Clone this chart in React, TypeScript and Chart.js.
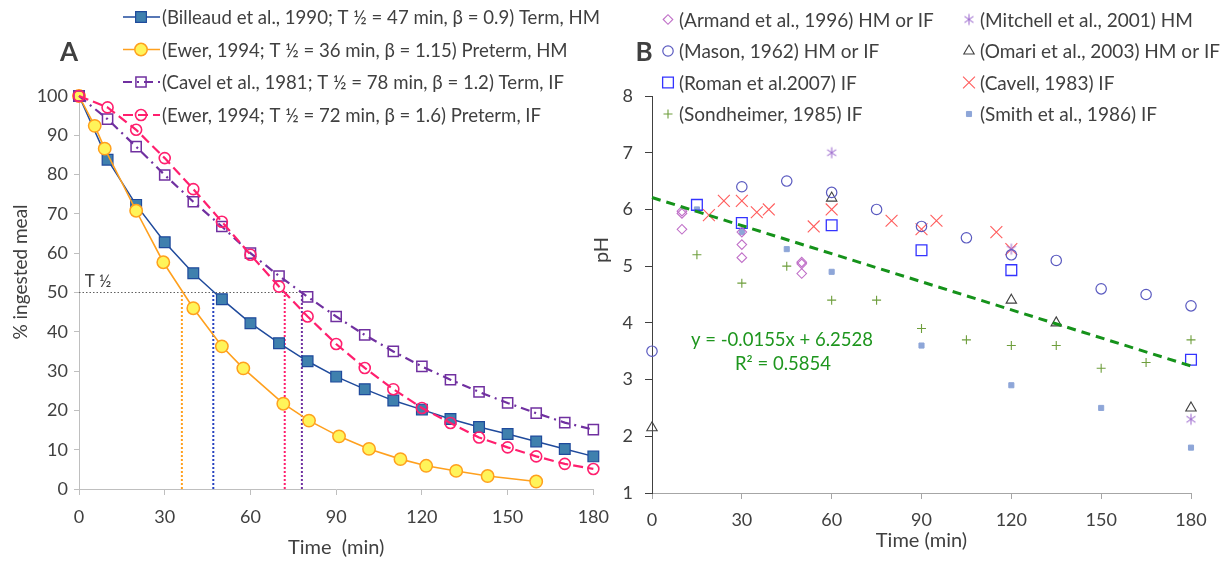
import React, { useEffect, useRef } from 'react';
import { Chart, registerables } from 'chart.js';

Chart.register(...registerables);

const FONT = 'Lato, "Noto Sans", "DejaVu Sans", sans-serif';
const INK = '#404040';

// ---------------- Panel A : gastric emptying ----------------
const timeA = [0, 10, 20, 30, 40, 50, 60, 70, 80, 90, 100, 110, 120, 130, 140, 150, 160, 170, 180];
const billeaudPct = [100, 83.8, 72.3, 62.8, 54.9, 48.3, 42.2, 37.1, 32.5, 28.6, 25.4, 22.5, 20.2, 17.8, 15.8, 14.0, 12.1, 10.2, 8.3];
const ewerHMTime = [0, 5.5, 9, 20, 29.5, 40, 50, 57.5, 71.5, 80.5, 91, 101.5, 112.5, 121.5, 132, 143, 160];
const ewerHMPct = [100, 92.4, 86.6, 70.8, 57.7, 46, 36.3, 30.7, 21.7, 17.4, 13.4, 10.2, 7.6, 5.9, 4.6, 3.3, 1.9];
const cavelPct = [100, 94.1, 87.1, 79.9, 73.1, 66.8, 60.0, 54.2, 48.9, 43.9, 39.2, 35.0, 31.2, 27.8, 24.7, 21.9, 19.3, 16.9, 15.1];
const ewerIFPct = [100, 97.1, 91.4, 84.2, 76.3, 68.0, 59.6, 51.5, 43.9, 36.9, 30.8, 25.4, 20.6, 16.8, 13.1, 10.6, 8.3, 6.4, 5.1];
const halfTimesA = [47, 36, 78, 72]; // Billeaud, Ewer HM, Cavel, Ewer IF
const halfLevelA = 50;
const legendLabelsA = [
  '(Billeaud et al., 1990; T ½ = 47 min, β = 0.9) Term, HM',
  '(Ewer, 1994; T ½ = 36 min, β = 1.15) Preterm, HM',
  '(Cavel et al., 1981; T ½ = 78 min, β = 1.2) Term, IF',
  '(Ewer, 1994; T ½ = 72 min, β = 1.6) Preterm, IF',
];
const xTicksA = { min: 0, max: 180, step: 30 };
const yTicksA = { min: 0, max: 100, step: 10 };
const xTitleA = 'Time  (min)';
const yTitleA = '% ingested meal';
const halfLabel = 'T ½';

// ---------------- Panel B : gastric pH ----------------
const armandX = [10, 10, 10, 30, 30, 30, 50, 50, 50];
const armandY = [5.97, 5.93, 5.65, 5.6, 5.38, 5.15, 5.07, 5.04, 4.87];
const masonX = [0, 30, 45, 60, 75, 90, 105, 120, 135, 150, 165, 180];
const masonY = [3.5, 6.4, 6.5, 6.3, 6.0, 5.7, 5.5, 5.2, 5.1, 4.6, 4.5, 4.3];
const romanX = [15, 30, 60, 90, 120, 180];
const romanY = [6.08, 5.76, 5.72, 5.28, 4.93, 3.35];
const sondheimerX = [15, 30, 45, 60, 75, 90, 105, 120, 135, 150, 165, 180];
const sondheimerY = [5.2, 4.7, 5.0, 4.4, 4.4, 3.9, 3.7, 3.6, 3.6, 3.2, 3.3, 3.7];
const mitchellX = [60, 120, 180];
const mitchellY = [7.0, 5.3, 2.3];
const omariX = [0, 60, 120, 135, 180];
const omariY = [2.15, 6.2, 4.4, 4.0, 2.5];
const cavellX = [19, 24, 30, 35, 39, 54, 60, 80, 90, 95, 115, 120];
const cavellY = [5.9, 6.15, 6.15, 5.95, 6.0, 5.7, 6.0, 5.8, 5.65, 5.8, 5.6, 5.3];
const smithX = [15, 30, 45, 60, 90, 120, 150, 180];
const smithY = [6.0, 5.6, 5.3, 4.9, 3.6, 2.9, 2.5, 1.8];
const trendX = [0, 180];
const trendY = [6.21, 3.24];
const trendLabels = ['y = -0.0155x + 6.2528', 'R² = 0.5854'];
const legendLabelsB = [
  '(Armand et al., 1996) HM or IF',
  '(Mason, 1962) HM or IF',
  '(Roman et al.2007) IF',
  '(Sondheimer, 1985) IF',
  '(Mitchell et al., 2001) HM',
  '(Omari et al., 2003) HM or IF',
  '(Cavell, 1983) IF',
  '(Smith et al., 1986) IF',
];
const xTicksB = { min: 0, max: 180, step: 30 };
const yTicksB = { min: 1, max: 8, step: 1 };
const xTitleB = 'Time (min)';
const yTitleB = 'pH';
const panelLetters = ['A', 'B'];

// ---------------- helpers ----------------
const pts = (xs: number[], ys: number[]) => xs.map((x, i) => ({ x, y: ys[i] }));

function makeAsterisk(color: string, r: number, lw: number): HTMLCanvasElement {
  const size = Math.ceil(r * 2 + lw * 2 + 2);
  const c = document.createElement('canvas');
  c.width = size;
  c.height = size;
  const g = c.getContext('2d')!;
  const cx = size / 2;
  const cy = size / 2;
  g.strokeStyle = color;
  g.lineWidth = lw;
  g.beginPath();
  for (const a of [90, 35, 145]) {
    const rad = (a * Math.PI) / 180;
    g.moveTo(cx - Math.cos(rad) * r, cy - Math.sin(rad) * r);
    g.lineTo(cx + Math.cos(rad) * r, cy + Math.sin(rad) * r);
  }
  g.stroke();
  return c;
}

type Style = {
  color: string;
  fill: string;
  shape: any;
  r: number;
  bw: number;
  lw?: number;
  dash?: number[];
};

function drawShape(ctx: CanvasRenderingContext2D, s: Style, x: number, y: number) {
  ctx.save();
  ctx.setLineDash([]);
  if (typeof s.shape !== 'string') {
    const im = s.shape as HTMLCanvasElement;
    ctx.drawImage(im, x - im.width / 2, y - im.height / 2);
    ctx.restore();
    return;
  }
  ctx.beginPath();
  ctx.strokeStyle = s.color;
  ctx.fillStyle = s.fill;
  ctx.lineWidth = s.bw;
  const r = s.r;
  switch (s.shape) {
    case 'circle':
      ctx.arc(x, y, r, 0, Math.PI * 2);
      break;
    case 'rect': {
      const h = r * Math.SQRT1_2;
      ctx.rect(x - h, y - h, 2 * h, 2 * h);
      break;
    }
    case 'rectRot':
      ctx.moveTo(x - r, y);
      ctx.lineTo(x, y - r);
      ctx.lineTo(x + r, y);
      ctx.lineTo(x, y + r);
      ctx.closePath();
      break;
    case 'triangle': {
      let a = 0;
      ctx.moveTo(x + Math.sin(a) * r, y - Math.cos(a) * r);
      a += (2 * Math.PI) / 3;
      ctx.lineTo(x + Math.sin(a) * r, y - Math.cos(a) * r);
      a += (2 * Math.PI) / 3;
      ctx.lineTo(x + Math.sin(a) * r, y - Math.cos(a) * r);
      ctx.closePath();
      break;
    }
    case 'cross':
      ctx.moveTo(x - r, y);
      ctx.lineTo(x + r, y);
      ctx.moveTo(x, y - r);
      ctx.lineTo(x, y + r);
      break;
    case 'crossRot': {
      const d = r * Math.SQRT1_2;
      ctx.moveTo(x - d, y - d);
      ctx.lineTo(x + d, y + d);
      ctx.moveTo(x + d, y - d);
      ctx.lineTo(x - d, y + d);
      break;
    }
  }
  if (s.shape !== 'cross' && s.shape !== 'crossRot') ctx.fill();
  ctx.stroke();
  ctx.restore();
}

// ---------------- styles ----------------
const styleA: Style[] = [
  { color: '#1F4A9C', fill: '#3F80AE', shape: 'rect', r: 7.6, bw: 1.2, lw: 1.5, dash: [] },
  { color: '#FFA01E', fill: '#FFF45A', shape: 'circle', r: 6.2, bw: 1.5, lw: 1.6, dash: [] },
  { color: '#7030A0', fill: 'rgba(255,255,255,0)', shape: 'rect', r: 7.2, bw: 1.5, lw: 2.2, dash: [9, 5, 2, 5] },
  { color: '#FF1F6E', fill: 'rgba(255,255,255,0)', shape: 'circle', r: 5.5, bw: 1.6, lw: 2.2, dash: [10, 5] },
];
const halfColorsA = ['#2742C0', '#FFA01E', '#7030A0', '#FF1F6E'];

const styleB: Style[] = [
  { color: '#C070C8', fill: 'rgba(255,255,255,0)', shape: 'rectRot', r: 4.8, bw: 1.1 },
  { color: '#5A5AC0', fill: 'rgba(255,255,255,0)', shape: 'circle', r: 5.2, bw: 1.2 },
  { color: '#3333FF', fill: 'rgba(255,255,255,0)', shape: 'rect', r: 7.6, bw: 1.3 },
  { color: '#6E9E3C', fill: 'rgba(255,255,255,0)', shape: 'cross', r: 4.5, bw: 1.1 },
  { color: '#A070D0', fill: 'rgba(255,255,255,0)', shape: null, r: 5.5, bw: 1.1 },
  { color: '#404040', fill: 'rgba(255,255,255,0)', shape: 'triangle', r: 6, bw: 1.1 },
  { color: '#FF5C5C', fill: 'rgba(255,255,255,0)', shape: 'crossRot', r: 8.4, bw: 1.1 },
  { color: '#8EA6D8', fill: '#8EA6D8', shape: 'rect', r: 3.6, bw: 1 },
];

// ---------------- charts ----------------
function scaleOpts(t: { min: number; max: number; step: number }, tickColor: string, borderColor: string, tickLen: number, pad: number) {
  return {
    type: 'linear' as const,
    min: t.min,
    max: t.max,
    ticks: { stepSize: t.step, color: INK, font: { size: 18, family: FONT }, padding: pad, maxRotation: 0, autoSkip: false },
    grid: { drawOnChartArea: false, drawTicks: true, tickLength: tickLen, color: tickColor, lineWidth: 1 },
    border: { display: true, color: borderColor, width: 1 },
  };
}

function configA(): any {
  const sA = styleA;
  const series = [
    { xs: timeA, ys: billeaudPct, s: sA[0] },
    { xs: ewerHMTime, ys: ewerHMPct, s: sA[1] },
    { xs: timeA, ys: cavelPct, s: sA[2] },
    { xs: timeA, ys: ewerIFPct, s: sA[3] },
  ];
  const mk = (o: any) => ({
    label: '',
    data: pts(o.xs, o.ys),
    showLine: true,
    tension: 0,
    clip: false,
    borderColor: o.s.color,
    borderWidth: o.s.lw,
    borderDash: o.s.dash,
    pointStyle: o.s.shape,
    pointRadius: o.s.r,
    pointBorderWidth: o.s.bw,
    pointBorderColor: o.s.color,
    pointBackgroundColor: o.s.fill,
  });
  const halfLines = halfTimesA.map((t, i) => ({
    label: '',
    data: [{ x: t, y: 0 }, { x: t, y: halfLevelA }],
    showLine: true,
    pointRadius: 0,
    borderColor: halfColorsA[i],
    borderWidth: 2,
    borderDash: [2, 2],
  }));
  const hLine = {
    label: '',
    data: [{ x: 0, y: halfLevelA }, { x: Math.max(...halfTimesA), y: halfLevelA }],
    showLine: true,
    pointRadius: 0,
    borderColor: '#606060',
    borderWidth: 1.2,
    borderDash: [1.5, 2],
  };
  const datasets = [mk(series[3]), mk(series[2]), mk(series[1]), mk(series[0]), ...halfLines, hLine];

  const overlay = {
    id: 'overlayA',
    afterDraw(chart: any) {
      const ctx: CanvasRenderingContext2D = chart.ctx;
      const xs = chart.scales.x;
      const ys = chart.scales.y;
      ctx.save();
      ctx.fillStyle = INK;
      ctx.textBaseline = 'middle';
      ctx.textAlign = 'center';
      ctx.font = `bold 26px ${FONT}`;
      ctx.fillText(panelLetters[0], 69, 53);
      ctx.font = `17px ${FONT}`;
      ctx.textAlign = 'left';
      ctx.fillText(halfLabel, xs.getPixelForValue(2), ys.getPixelForValue(halfLevelA) - 11);
      // y title
      ctx.save();
      ctx.translate(21, 272);
      ctx.rotate(-Math.PI / 2);
      ctx.textAlign = 'center';
      ctx.font = `19px ${FONT}`;
      ctx.fillText(yTitleA, 0, 0);
      ctx.restore();
      // legend
      const rows = [17, 49.5, 82, 115];
      legendLabelsA.forEach((lab, i) => {
        const s = sA[i];
        const y = rows[i];
        ctx.save();
        ctx.strokeStyle = s.color;
        ctx.lineWidth = s.lw!;
        ctx.setLineDash(s.dash!);
        ctx.beginPath();
        ctx.moveTo(123, y);
        ctx.lineTo(160, y);
        ctx.stroke();
        ctx.restore();
        drawShape(ctx, s, 141, y);
        ctx.fillStyle = INK;
        ctx.font = `18.6px ${FONT}`;
        ctx.textAlign = 'left';
        ctx.fillText(lab, 162, y + 1);
      });
      ctx.restore();
    },
  };

  return {
    type: 'scatter',
    data: { datasets },
    plugins: [overlay],
    options: {
      responsive: false,
      animation: false,
      events: [],
      layout: { padding: { left: 0, top: 96, right: 25, bottom: 0 } },
      plugins: { legend: { display: false }, tooltip: { enabled: false } },
      scales: {
        x: {
          ...scaleOpts(xTicksA, '#BFBFBF', '#BFBFBF', 6, 11),
          title: { display: true, text: xTitleA, color: INK, font: { size: 20, family: FONT }, padding: { top: 0, bottom: 1 } },
          afterFit: (s: any) => { s.height = 72; },
        },
        y: {
          ...scaleOpts(yTicksA, '#BFBFBF', '#BFBFBF', 5, 6),
          afterFit: (s: any) => { s.width = 79; },
        },
      },
    },
  };
}

function configB(): any {
  const asterisk = makeAsterisk(styleB[4].color, styleB[4].r, 1.1);
  const sB = styleB.map((s, i) => (i === 4 ? { ...s, shape: asterisk } : s));
  const xsList = [armandX, masonX, romanX, sondheimerX, mitchellX, omariX, cavellX, smithX];
  const ysList = [armandY, masonY, romanY, sondheimerY, mitchellY, omariY, cavellY, smithY];
  const datasets: any[] = [
    {
      label: 'trend',
      data: pts(trendX, trendY),
      showLine: true,
      pointRadius: 0,
      borderColor: '#15921A',
      borderWidth: 3,
      borderDash: [9, 6],
      clip: false,
    },
  ];
  xsList.forEach((xs, i) => {
    const s = sB[i];
    datasets.push({
      label: legendLabelsB[i],
      data: pts(xs, ysList[i]),
      showLine: false,
      clip: false,
      pointStyle: s.shape,
      pointRadius: s.r,
      pointBorderWidth: s.bw,
      pointBorderColor: s.color,
      pointBackgroundColor: s.fill,
    });
  });

  const overlay = {
    id: 'overlayB',
    afterDraw(chart: any) {
      const ctx: CanvasRenderingContext2D = chart.ctx;
      ctx.save();
      ctx.fillStyle = INK;
      ctx.textBaseline = 'middle';
      ctx.textAlign = 'center';
      ctx.font = `bold 26px ${FONT}`;
      ctx.fillText(panelLetters[1], 69, 53);
      // y title
      ctx.save();
      ctx.translate(27, 250);
      ctx.rotate(-Math.PI / 2);
      ctx.font = `20px ${FONT}`;
      ctx.fillText(yTitleB, 0, 0);
      ctx.restore();
      // trend equation
      ctx.fillStyle = '#1E961E';
      ctx.font = `18.5px ${FONT}`;
      ctx.fillText(trendLabels[0], 207, 340);
      ctx.fillText(trendLabels[1], 208, 364);
      // legend (two columns)
      const rows = [19.5, 51, 82.5, 114];
      legendLabelsB.forEach((lab, i) => {
        const col = Math.floor(i / 4);
        const y = rows[i % 4];
        const mx = col === 0 ? 93 : 394;
        drawShape(ctx, sB[i], mx, y);
        ctx.fillStyle = INK;
        ctx.font = `19px ${FONT}`;
        ctx.textAlign = 'left';
        ctx.fillText(lab, mx + 11, y + 1);
      });
      ctx.restore();
    },
  };

  return {
    type: 'scatter',
    data: { datasets },
    plugins: [overlay],
    options: {
      responsive: false,
      animation: false,
      events: [],
      layout: { padding: { left: 0, top: 96, right: 40, bottom: 0 } },
      plugins: { legend: { display: false }, tooltip: { enabled: false } },
      scales: {
        x: {
          ...scaleOpts(xTicksB, '#A6A6A6', '#A6A6A6', 6, 10),
          title: { display: true, text: xTitleB, color: INK, font: { size: 20, family: FONT }, padding: { top: 0, bottom: 8 } },
          afterFit: (s: any) => { s.height = 68; },
        },
        y: {
          ...scaleOpts(yTicksB, '#404040', '#404040', 7, 12),
          afterFit: (s: any) => { s.width = 77; },
        },
      },
    },
  };
}

export default function App() {
  const refA = useRef<HTMLCanvasElement>(null);
  const refB = useRef<HTMLCanvasElement>(null);
  useEffect(() => {
    Chart.defaults.font.family = FONT;
    const a = new Chart(refA.current!, configA());
    const b = new Chart(refB.current!, configB());
    return () => {
      a.destroy();
      b.destroy();
    };
  }, []);
  return (
    <div style={{ position: 'absolute', left: 0, top: 0, width: 1231, height: 561, background: '#ffffff', overflow: 'hidden' }}>
      <canvas ref={refA} width={620} height={561} style={{ position: 'absolute', left: 0, top: 0 }} />
      <canvas ref={refB} width={656} height={561} style={{ position: 'absolute', left: 575, top: 0 }} />
    </div>
  );
}
